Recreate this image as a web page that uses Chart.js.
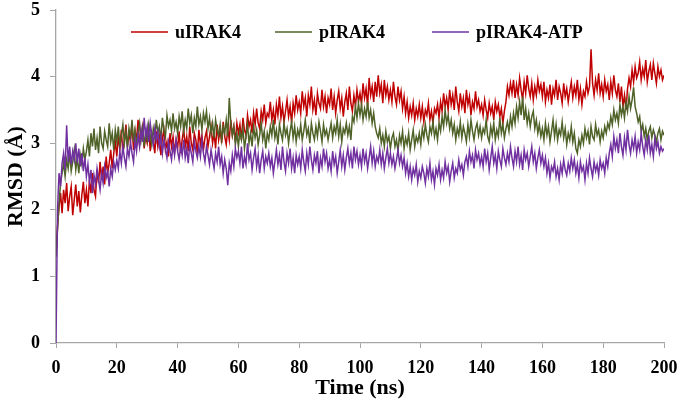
<!DOCTYPE html>
<html>
<head>
<meta charset="utf-8">
<script src="https://cdn.jsdelivr.net/npm/chart.js@4/dist/chart.umd.min.js"></script>
<style>
  html, body { margin: 0; padding: 0; background: #fff; }
  #wrap { width: 685px; height: 403px; }
</style>
</head>
<body>
<div id="wrap"><canvas id="rmsd"></canvas></div>
<script>
// ---------------------------------------------------------------------------
// RMSD vs time for three IRAK4 systems (0.5 ns step)
// ---------------------------------------------------------------------------

const seriesNames = ['uIRAK4', 'pIRAK4', 'pIRAK4-ATP'];
const xTicks = [0, 20, 40, 60, 80, 100, 120, 140, 160, 180, 200];
const yTicks = [0, 1, 2, 3, 4, 5];

// sampling times (ns): 0, 0.5, 1.0 ... 200
const timeNs = Array.from({ length: 401 }, (_, i) => i / 2);

const uIRAK4 = [
    1.30, 1.75, 2.05, 2.25, 1.95, 2.30, 2.10, 2.40, 1.98, 2.20,
    2.35, 1.92, 2.15, 2.38, 2.05, 2.28, 1.96, 2.22, 2.42, 2.10,
    2.30, 2.05, 2.45, 2.25, 2.55, 2.30, 2.20, 2.60, 2.40, 2.72,
    2.45, 2.65, 2.38, 2.80, 2.55, 2.70, 2.90, 2.62, 2.85, 3.02,
    2.80, 3.10, 2.92, 3.20, 2.85, 3.05, 3.28, 2.95, 3.15, 3.02,
    3.30, 2.90, 3.18, 3.05, 3.35, 2.98, 3.12, 3.25, 2.92, 3.10,
    3.00, 3.22, 2.88, 3.15, 3.05, 2.85, 3.18, 2.95, 3.10, 2.82,
    3.08, 3.20, 2.90, 3.02, 2.80, 3.15, 2.95, 3.10, 2.86, 3.05,
    2.92, 3.18, 2.85, 3.05, 3.22, 2.95, 3.10, 2.88, 3.25, 3.00,
    2.90, 3.15, 3.05, 2.85, 3.20, 2.98, 3.12, 2.90, 3.08, 3.18,
    2.95, 3.10, 3.25, 3.00, 3.15, 2.92, 3.28, 3.05, 3.20, 3.00,
    3.32, 3.10, 2.98, 3.22, 3.05, 3.35, 3.12, 3.25, 3.02, 3.30,
    3.15, 3.28, 3.05, 3.38, 3.20, 3.12, 3.42, 3.25, 3.35, 3.15,
    3.45, 3.28, 3.52, 3.30, 3.22, 3.48, 3.35, 3.58, 3.30, 3.45,
    3.40, 3.62, 3.35, 3.50, 3.28, 3.58, 3.42, 3.70, 3.38, 3.55,
    3.32, 3.48, 3.65, 3.40, 3.55, 3.30, 3.60, 3.45, 3.72, 3.50,
    3.62, 3.45, 3.78, 3.55, 3.68, 3.40, 3.72, 3.58, 3.85, 3.50,
    3.65, 3.42, 3.75, 3.60, 3.52, 3.80, 3.55, 3.70, 3.45, 3.68,
    3.58, 3.82, 3.50, 3.70, 3.45, 3.65, 3.78, 3.52, 3.68, 3.40,
    3.62, 3.75, 3.50, 3.85, 3.60, 3.48, 3.72, 3.55, 3.80, 3.62,
    3.75, 3.58, 3.90, 3.68, 3.82, 3.55, 3.98, 3.72, 3.85, 3.62,
    3.92, 3.70, 4.02, 3.75, 3.88, 3.60, 3.95, 3.72, 3.85, 3.65,
    3.80, 3.62, 3.92, 3.70, 3.58, 3.85, 3.65, 3.78, 3.52, 3.70,
    3.45, 3.62, 3.38, 3.55, 3.42, 3.60, 3.35, 3.52, 3.40, 3.58,
    3.38, 3.55, 3.32, 3.50, 3.42, 3.60, 3.35, 3.48, 3.30, 3.52,
    3.45, 3.58, 3.38, 3.62, 3.48, 3.75, 3.55, 3.68, 3.50, 3.80,
    3.58, 3.72, 3.50, 3.85, 3.62, 3.48, 3.75, 3.55, 3.68, 3.45,
    3.80, 3.58, 3.70, 3.42, 3.62, 3.52, 3.78, 3.55, 3.65, 3.48,
    3.58, 3.42, 3.65, 3.50, 3.38, 3.60, 3.45, 3.55, 3.35, 3.62,
    3.48, 3.58, 3.40, 3.52, 3.30, 3.48, 3.62, 3.85, 3.72, 3.90,
    3.75, 3.95, 3.68, 3.88, 3.72, 3.98, 3.80, 3.65, 3.92, 3.75,
    4.02, 3.82, 3.70, 3.90, 3.65, 3.85, 3.72, 3.95, 3.78, 3.88,
    3.70, 3.92, 3.62, 3.80, 3.68, 3.88, 3.58, 3.82, 3.72, 3.95,
    3.65, 3.85, 3.75, 3.60, 3.90, 3.70, 3.82, 3.62, 3.78, 3.92,
    3.68, 3.85, 3.72, 3.95, 3.65, 3.82, 3.58, 3.78, 3.70, 3.92,
    3.75, 3.85, 4.41, 3.90, 3.72, 3.95, 3.80, 4.05, 3.75, 3.88,
    3.70, 3.95, 3.78, 3.88, 3.65, 3.92, 3.75, 4.02, 3.80, 3.70,
    3.90, 3.62, 3.85, 3.55, 3.72, 3.50, 3.82, 3.98, 3.85, 4.10,
    3.92, 4.15, 3.98, 4.05, 4.22, 3.95, 4.12, 4.00, 4.25, 3.92,
    4.08, 4.18, 3.95, 4.20, 4.05, 3.90, 4.15, 4.00, 4.10, 3.95,
    4.02
];

const pIRAK4 = [
    1.30, 1.70, 2.10, 2.40, 2.55, 2.70, 2.50, 2.75, 2.62, 2.85,
    2.58, 2.72, 2.90, 2.60, 2.78, 2.55, 2.82, 2.68, 2.92, 2.75,
    2.88, 3.05, 2.80, 3.15, 2.95, 3.22, 2.90, 3.08, 2.85, 3.25,
    3.00, 2.92, 3.18, 3.05, 2.95, 3.30, 3.02, 3.15, 2.90, 3.20,
    3.02, 3.25, 2.95, 3.12, 3.28, 3.00, 3.18, 2.92, 3.22, 3.08,
    3.35, 3.02, 3.20, 2.98, 3.15, 3.30, 3.05, 3.22, 2.95, 3.18,
    3.05, 3.28, 3.12, 2.98, 3.22, 3.08, 3.35, 3.15, 3.25, 3.05,
    3.38, 3.20, 3.10, 3.42, 3.25, 3.35, 3.18, 3.45, 3.22, 3.32,
    3.15, 3.40, 3.25, 3.48, 3.18, 3.35, 3.22, 3.52, 3.30, 3.42,
    3.15, 3.38, 3.25, 3.55, 3.28, 3.40, 3.20, 3.45, 3.32, 3.48,
    3.22, 3.38, 3.15, 3.30, 3.08, 3.35, 3.20, 3.12, 3.28, 3.05,
    3.25, 3.15, 3.35, 3.10, 3.68, 3.30, 3.12, 3.25, 2.98, 3.15,
    2.95, 3.18, 3.05, 3.22, 2.92, 3.10, 3.28, 3.00, 3.15, 2.95,
    3.25, 3.08, 3.20, 2.98, 3.12, 3.30, 3.05, 3.18, 2.92, 3.15,
    3.05, 3.25, 3.12, 3.35, 3.08, 3.20, 2.98, 3.28, 3.15, 3.05,
    3.30, 3.12, 3.22, 3.00, 3.18, 3.32, 3.08, 3.25, 3.02, 3.20,
    3.10, 3.28, 3.05, 3.18, 3.35, 3.12, 3.22, 3.00, 3.30, 3.15,
    3.05, 3.25, 3.10, 3.32, 3.18, 3.02, 3.28, 3.12, 3.20, 3.05,
    3.18, 3.30, 3.08, 3.25, 3.15, 3.35, 3.10, 3.28, 3.02, 3.22,
    3.15, 3.30, 3.12, 3.25, 3.05, 3.40, 3.32, 3.55, 3.38, 3.60,
    3.42, 3.58, 3.35, 3.52, 3.40, 3.62, 3.38, 3.50, 3.30, 3.45,
    3.25, 3.15, 3.08, 3.22, 3.00, 3.12, 2.95, 3.18, 3.02, 3.10,
    2.92, 3.08, 3.15, 2.95, 3.05, 2.88, 3.12, 3.00, 3.18, 2.92,
    3.08, 2.98, 3.15, 2.90, 3.05, 3.20, 2.95, 3.10, 3.02, 3.15,
    2.98, 3.22, 3.08, 3.28, 3.12, 3.02, 3.25, 3.15, 3.32, 3.10,
    3.22, 3.05, 3.30, 3.18, 3.40, 3.25, 3.50, 3.30, 3.42, 3.22,
    3.35, 3.15, 3.28, 3.05, 3.22, 3.12, 3.32, 3.08, 3.25, 3.15,
    3.02, 3.28, 3.10, 3.35, 3.18, 3.05, 3.22, 3.30, 3.12, 3.25,
    3.08, 3.22, 3.15, 3.35, 3.10, 3.02, 3.25, 3.12, 3.30, 3.05,
    3.20, 3.10, 3.38, 3.15, 3.28, 3.08, 3.22, 3.32, 3.18, 3.40,
    3.25, 3.45, 3.30, 3.55, 3.38, 3.62, 3.42, 3.70, 3.35, 3.52,
    3.30, 3.45, 3.25, 3.40, 3.48, 3.22, 3.35, 3.15, 3.28, 3.10,
    3.22, 3.05, 3.30, 3.12, 3.25, 3.02, 3.18, 3.35, 3.10, 3.28,
    3.05, 3.20, 3.12, 3.32, 3.08, 3.22, 2.98, 3.15, 3.05, 3.25,
    3.02, 3.15, 2.92, 2.85, 3.05, 2.95, 3.12, 3.00, 3.22, 3.08,
    3.18, 2.98, 3.25, 3.10, 3.05, 3.28, 3.12, 3.20, 3.02, 3.18,
    3.08, 3.25, 3.15, 3.30, 3.22, 3.40, 3.28, 3.50, 3.35, 3.45,
    3.30, 3.58, 3.42, 3.55, 3.38, 3.62, 3.48, 3.70, 3.52, 3.65,
    3.84, 3.55, 3.45, 3.32, 3.40, 3.18, 3.28, 3.10, 3.22, 3.05,
    3.18, 3.25, 3.08, 3.20, 3.12, 3.02, 3.15, 3.22, 3.05, 3.18,
    3.12
];

const pIRAK4ATP = [
    0.00, 2.00, 2.55, 2.35, 2.70, 2.85, 2.60, 3.27, 2.72, 2.95,
    2.68, 2.88, 2.75, 3.00, 2.70, 2.92, 2.65, 2.85, 2.58, 2.78,
    2.50, 2.68, 2.42, 2.60, 2.25, 2.52, 2.38, 2.62, 2.45, 2.30,
    2.55, 2.40, 2.65, 2.48, 2.58, 2.35, 2.62, 2.50, 2.72, 2.60,
    2.75, 2.62, 2.88, 2.70, 2.95, 2.78, 2.65, 2.92, 2.80, 3.02,
    2.85, 2.72, 3.05, 2.88, 3.12, 2.95, 3.20, 3.02, 3.38, 3.10,
    3.25, 3.02, 3.30, 3.12, 2.98, 3.22, 3.05, 3.18, 2.95, 3.10,
    2.85, 3.05, 2.92, 2.78, 3.02, 2.88, 2.75, 2.98, 2.82, 3.05,
    2.88, 2.75, 2.95, 2.82, 3.05, 2.78, 2.92, 2.70, 2.98, 2.85,
    2.72, 3.02, 2.88, 2.78, 2.95, 2.80, 3.05, 2.85, 2.72, 2.95,
    2.82, 2.68, 2.90, 2.75, 2.62, 2.85, 2.72, 2.95, 2.68, 2.80,
    2.55, 2.75, 2.62, 2.37, 2.70, 2.58, 2.82, 2.65, 2.92, 2.78,
    2.88, 2.70, 2.95, 2.62, 2.80, 2.68, 3.00, 2.75, 2.85, 2.60,
    2.78, 2.92, 2.65, 2.82, 2.55, 2.75, 2.88, 2.62, 2.80, 2.70,
    2.85, 2.65, 2.78, 2.55, 2.72, 2.90, 2.68, 2.82, 2.60, 2.95,
    2.72, 2.58, 2.85, 2.70, 2.92, 2.62, 2.78, 2.55, 2.82, 2.68,
    2.80, 2.62, 2.90, 2.72, 2.58, 2.85, 2.68, 2.95, 2.75, 2.60,
    2.82, 2.70, 2.88, 2.55, 2.78, 2.65, 2.92, 2.72, 2.85, 2.62,
    2.75, 2.58, 2.88, 2.68, 2.80, 2.55, 2.72, 2.90, 2.65, 2.82,
    2.60, 2.78, 2.92, 2.70, 2.85, 2.62, 2.95, 2.75, 2.88, 2.68,
    2.82, 2.65, 2.92, 2.72, 2.85, 2.62, 2.78, 2.95, 2.70, 2.88,
    2.65, 2.80, 2.72, 2.90, 2.68, 2.85, 2.62, 2.78, 2.92, 2.70,
    2.85, 2.68, 2.80, 2.62, 2.75, 2.90, 2.70, 2.82, 2.65, 2.78,
    2.55, 2.70, 2.50, 2.65, 2.45, 2.62, 2.52, 2.68, 2.42, 2.58,
    2.48, 2.65, 2.55, 2.40, 2.62, 2.50, 2.70, 2.45, 2.58, 2.38,
    2.62, 2.52, 2.68, 2.45, 2.60, 2.48, 2.72, 2.55, 2.65, 2.42,
    2.58, 2.70, 2.48, 2.62, 2.55, 2.75, 2.60, 2.68, 2.52, 2.72,
    2.80, 2.65, 2.88, 2.72, 2.82, 2.62, 2.90, 2.75, 2.85, 2.68,
    2.80, 2.65, 2.92, 2.72, 2.85, 2.60, 2.78, 2.95, 2.70, 2.82,
    2.62, 2.88, 2.75, 2.65, 2.92, 2.78, 2.68, 2.85, 2.72, 2.95,
    2.78, 2.65, 2.88, 2.72, 2.95, 2.68, 2.82, 2.60, 2.90, 2.75,
    2.85, 2.65, 2.80, 2.95, 2.72, 2.85, 2.62, 2.78, 2.90, 2.70,
    2.82, 2.65, 2.78, 2.55, 2.70, 2.48, 2.65, 2.58, 2.72, 2.50,
    2.62, 2.45, 2.68, 2.55, 2.75, 2.60, 2.52, 2.70, 2.58, 2.78,
    2.62, 2.75, 2.55, 2.68, 2.48, 2.72, 2.58, 2.65, 2.45, 2.70,
    2.55, 2.78, 2.62, 2.50, 2.72, 2.58, 2.68, 2.52, 2.75, 2.62,
    2.70, 2.55, 2.78, 2.65, 2.85, 2.98, 2.80, 3.10, 2.92, 3.05,
    2.85, 3.15, 2.95, 2.82, 3.08, 2.90, 3.20, 2.98, 2.85, 3.05,
    2.92, 3.10, 2.85, 3.02, 2.90, 3.15, 2.95, 2.82, 3.05, 2.90,
    3.12, 2.85, 2.98, 2.80, 3.08, 2.92, 3.02, 2.85, 2.95, 2.88,
    2.92
];

const FONT_FAMILY = "'Liberation Serif', 'Times New Roman', serif";
const AXIS_GREY = '#a6a6a6';
const COLORS = ['#c00000', '#4f6228', '#7030a0'];

function toPoints(values) {
    return values.map((v, i) => ({ x: timeNs[i], y: v }));
}

// legend sits inside the plot area, as in the original figure
const insideLegend = {
    id: 'insideLegend',
    afterDraw(chart) {
        const ctx = chart.ctx;
        const starts = [131, 275, 432];
        const y = 32;
        ctx.save();
        ctx.font = 'bold 18px ' + FONT_FAMILY;
        ctx.textBaseline = 'middle';
        ctx.fillStyle = '#000';
        chart.data.datasets.forEach((ds, i) => {
            const x0 = starts[i];
            ctx.strokeStyle = ds.borderColor;
            ctx.lineWidth = 1.5;
            ctx.beginPath();
            ctx.moveTo(x0, y);
            ctx.lineTo(x0 + 37, y);
            ctx.stroke();
            ctx.fillText(ds.label, x0 + 44, y + 1);
        });
        ctx.restore();
    }
};

const ctx = document.getElementById('rmsd').getContext('2d');

const chart = new Chart(ctx, {
    type: 'line',
    data: {
        datasets: [
            { label: seriesNames[0], data: toPoints(uIRAK4), borderColor: COLORS[0], order: 3 },
            { label: seriesNames[1], data: toPoints(pIRAK4), borderColor: COLORS[1], order: 2 },
            { label: seriesNames[2], data: toPoints(pIRAK4ATP), borderColor: COLORS[2], order: 1 }
        ].map(ds => Object.assign(ds, {
            borderWidth: 1.5,
            pointRadius: 0,
            fill: false,
            tension: 0
        }))
    },
    options: {
        responsive: true,
        maintainAspectRatio: false,
        animation: false,
        layout: {
            padding: { top: 10, right: 21, bottom: 0, left: 3 }
        },
        plugins: {
            legend: { display: false },
            tooltip: { enabled: false }
        },
        scales: {
            x: {
                type: 'linear',
                min: 0,
                max: 200,
                afterBuildTicks: axis => { axis.ticks = xTicks.map(v => ({ value: v })); },
                afterFit: axis => {
                    axis.height = 60;
                    axis.paddingLeft = 0;
                    axis.paddingRight = 0;
                },
                title: {
                    display: true,
                    text: 'Time (ns)',
                    color: '#000',
                    padding: { top: 0, bottom: 1 },
                    font: { family: FONT_FAMILY, size: 22, weight: 'bold' }
                },
                grid: {
                    drawOnChartArea: false,
                    color: AXIS_GREY,
                    tickLength: 5
                },
                border: { color: AXIS_GREY, width: 1.3 },
                ticks: {
                    color: '#000',
                    maxRotation: 0,
                    padding: 10,
                    font: { family: FONT_FAMILY, size: 18, weight: 'bold' }
                }
            },
            y: {
                min: 0,
                max: 5,
                afterBuildTicks: axis => { axis.ticks = yTicks.map(v => ({ value: v })); },
                afterFit: axis => {
                    axis.width = 53;
                    axis.paddingTop = 0;
                    axis.paddingBottom = 0;
                },
                title: {
                    display: true,
                    text: 'RMSD (Å)',
                    color: '#000',
                    padding: { top: 0, bottom: 0 },
                    font: { family: FONT_FAMILY, size: 22, weight: 'bold' }
                },
                grid: {
                    drawOnChartArea: false,
                    color: AXIS_GREY,
                    tickLength: 6
                },
                border: { color: AXIS_GREY, width: 1.3 },
                ticks: {
                    color: '#000',
                    padding: 10,
                    font: { family: FONT_FAMILY, size: 18, weight: 'bold' }
                }
            }
        }
    },
    plugins: [insideLegend]
});
</script>
</body>
</html>
